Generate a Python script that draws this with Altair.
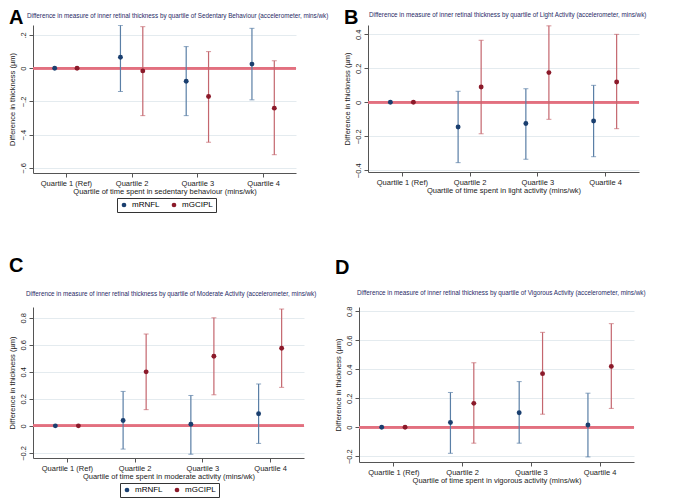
import altair as alt
import pandas as pd

quartiles = ["Quartile 1 (Ref)", "Quartile 2", "Quartile 3", "Quartile 4"]
quartile_idx = [1, 2, 3, 4]
measures = ["mRNFL", "mGCIPL"]

# A: Sedentary behaviour
sed_rnfl_est = [0, 0.066, -0.078, 0.025]
sed_rnfl_lo = [None, -0.14, -0.285, -0.19]
sed_rnfl_hi = [None, 0.258, 0.13, 0.24]
sed_gcipl_est = [0, -0.016, -0.17, -0.24]
sed_gcipl_lo = [None, -0.285, -0.445, -0.52]
sed_gcipl_hi = [None, 0.25, 0.10, 0.045]

# B: Light activity
light_rnfl_est = [0, -0.145, -0.125, -0.11]
light_rnfl_lo = [None, -0.355, -0.335, -0.32]
light_rnfl_hi = [None, 0.065, 0.08, 0.10]
light_gcipl_est = [0, 0.09, 0.175, 0.12]
light_gcipl_lo = [None, -0.185, -0.10, -0.155]
light_gcipl_hi = [None, 0.365, 0.45, 0.40]

# C: Moderate activity
mod_rnfl_est = [0, 0.04, 0.012, 0.09]
mod_rnfl_lo = [None, -0.172, -0.21, -0.13]
mod_rnfl_hi = [None, 0.255, 0.225, 0.31]
mod_gcipl_est = [0, 0.40, 0.515, 0.575]
mod_gcipl_lo = [None, 0.12, 0.23, 0.285]
mod_gcipl_hi = [None, 0.68, 0.80, 0.865]

# D: Vigorous activity
vig_rnfl_est = [0, 0.033, 0.10, 0.015]
vig_rnfl_lo = [None, -0.18, -0.11, -0.205]
vig_rnfl_hi = [None, 0.24, 0.315, 0.235]
vig_gcipl_est = [0, 0.165, 0.37, 0.42]
vig_gcipl_lo = [None, -0.11, 0.09, 0.13]
vig_gcipl_hi = [None, 0.445, 0.655, 0.715]

dot_colors = ["#1a3f6f", "#8b1a2a"]
bar_colors = ["#5a7fa6", "#c4666e"]
FONT = "Liberation Sans"
label_js = "[" + ",".join("'" + q + "'" for q in quartiles) + "]"


def make_df(rnfl, gcipl):
    rows = []
    for name, (est, lo, hi) in zip(measures, [rnfl, gcipl]):
        for i, q in enumerate(quartile_idx):
            rows.append({"q": q, "measure": name, "est": est[i], "lo": lo[i], "hi": hi[i]})
    return pd.DataFrame(rows)


def panel(letter, title, xtitle, rnfl, gcipl, domain, ticks, stata_fmt,
          width, height, title_x, title_y, letter_y, legend_x, legend_y):
    df = make_df(rnfl, gcipl)
    if stata_fmt:
        yexpr = "datum.value == 0 ? '0' : replace(format(datum.value, '.1f'), '0.', '.')"
    else:
        yexpr = "datum.value == 0 ? '0' : format(datum.value, '.1f')"

    xscale = alt.Scale(domain=[0.5, 4.5], nice=False, zero=False)
    xaxis = alt.Axis(values=quartile_idx, labelExpr=label_js + "[datum.value - 1]",
                     title=xtitle, grid=False, titleColor="#222")
    yscale = alt.Scale(domain=domain, nice=False, zero=False)
    yaxis = alt.Axis(values=ticks, labelExpr=yexpr,
                     title="Difference in thickness (µm)",
                     labelAngle=270, labelAlign="center",
                     labelBaseline="bottom", labelOverlap=False,
                     labelFlush=False, grid=True)

    def X():
        return alt.X("xpos:Q", scale=xscale, axis=xaxis)

    def Y(field):
        return alt.Y(field, scale=yscale, axis=yaxis)

    base = alt.Chart(df).transform_calculate(
        xpos="datum.q + (datum.measure == 'mRNFL' ? -0.17 : 0.17)"
    )
    zero = base.mark_rule(color="#e2707f", strokeWidth=2).encode(
        y=alt.Y(datum=0, scale=yscale, axis=yaxis))
    ci = base.transform_filter("isValid(datum.lo)")
    bars = ci.mark_rule(strokeWidth=1.2, clip=True).encode(
        x=X(), y=Y("lo:Q"), y2="hi:Q",
        stroke=alt.Stroke("measure:N", scale=alt.Scale(domain=measures, range=bar_colors), legend=None),
    )
    cap_lo = ci.mark_tick(orient="horizontal", size=5, thickness=1, clip=True).encode(
        x=X(), y=Y("lo:Q"),
        fill=alt.Fill("measure:N", scale=alt.Scale(domain=measures, range=bar_colors), legend=None),
    )
    cap_hi = ci.mark_tick(orient="horizontal", size=5, thickness=1, clip=True).encode(
        x=X(), y=Y("hi:Q"),
        fill=alt.Fill("measure:N", scale=alt.Scale(domain=measures, range=bar_colors), legend=None),
    )
    pts = base.mark_circle(size=24, opacity=1).encode(
        x=X(), y=Y("est:Q"),
        color=alt.Color("measure:N", scale=alt.Scale(domain=measures, range=dot_colors),
                        legend=alt.Legend(title=None, orient="none", direction="horizontal",
                                          legendX=legend_x, legendY=legend_y,
                                          strokeColor="#333", padding=3,
                                          symbolSize=22, symbolType="circle",
                                          labelFontSize=8, labelFont=FONT,
                                          columnPadding=10, labelOffset=4)),
    )
    let = alt.Chart(pd.DataFrame({"t": [letter]})).mark_text(
        font=FONT, fontSize=20, fontWeight="bold", align="left", baseline="alphabetic", color="black"
    ).encode(x=alt.value(-24), y=alt.value(letter_y), text="t:N")
    ttl = alt.Chart(pd.DataFrame({"t": [title]})).mark_text(
        font=FONT, fontSize=6.3, align="left", baseline="alphabetic", color="#1f2a66"
    ).encode(x=alt.value(title_x), y=alt.value(title_y), text="t:N")

    return alt.layer(zero, bars, cap_lo, cap_hi, pts, let, ttl).properties(
        width=width, height=height,
    )


pA = panel("A", "Difference in measure of inner retinal thickness by quartile of Sedentary Behaviour (accelerometer, mins/wk)",
           "Quartile of time spent in sedentary behaviour (mins/wk)",
           (sed_rnfl_est, sed_rnfl_lo, sed_rnfl_hi), (sed_gcipl_est, sed_gcipl_lo, sed_gcipl_hi),
           [-0.63, 0.26], [-0.6, -0.4, -0.2, 0, 0.2], True,
           263, 148, -6, -7, -1, 84, 173)
pB = panel("B", "Difference in measure of inner retinal thickness by quartile of Light Activity (accelerometer, mins/wk)",
           "Quartile of time spent in light activity (mins/wk)",
           (light_rnfl_est, light_rnfl_lo, light_rnfl_hi), (light_gcipl_est, light_gcipl_lo, light_gcipl_hi),
           [-0.41, 0.455], [-0.4, -0.2, 0, 0.2, 0.4], False,
           271, 147, 1, -8, -1, 86, 179)
pC = panel("C", "Difference in measure of inner retinal thickness by quartile of Moderate Activity (accelerometer, mins/wk)",
           "Quartile of time spent in moderate activity (mins/wk)",
           (mod_rnfl_est, mod_rnfl_lo, mod_rnfl_hi), (mod_gcipl_est, mod_gcipl_lo, mod_gcipl_hi),
           [-0.238, 0.88], [-0.2, 0, 0.2, 0.4, 0.6, 0.8], False,
           271, 151, -7, -11, -35, 87, 176)
pD = panel("D", "Difference in measure of inner retinal thickness by quartile of Vigorous Activity (accelerometer, mins/wk)",
           "Quartile of time spent in vigorous activity (mins/wk)",
           (vig_rnfl_est, vig_rnfl_lo, vig_rnfl_hi), (vig_gcipl_est, vig_gcipl_lo, vig_gcipl_hi),
           [-0.24, 0.83], [-0.2, 0, 0.2, 0.4, 0.6, 0.8], False,
           275, 155, -2, -12, -33, 89, 177)

chart = alt.vconcat(
    alt.hconcat(pA, pB, spacing=14),
    alt.hconcat(pC, pD, spacing=16),
    spacing=43,
).resolve_legend(color="independent").properties(
    padding=0, background="white"
).configure_view(stroke=None).configure_axis(
    labelFont=FONT, titleFont=FONT, labelFontSize=7.5, titleFontSize=7.5,
    titleFontWeight="normal", labelColor="#222", titleColor="#222",
    domainColor="#555", tickColor="#555", tickSize=4, labelPadding=2,
    gridColor="#e4ebef", gridWidth=1, titlePadding=3, labelOverlap=False,
).configure_axisX(titlePadding=1, labelPadding=2)

chart.save("out.html", embed_options={"renderer": "svg", "actions": False})
